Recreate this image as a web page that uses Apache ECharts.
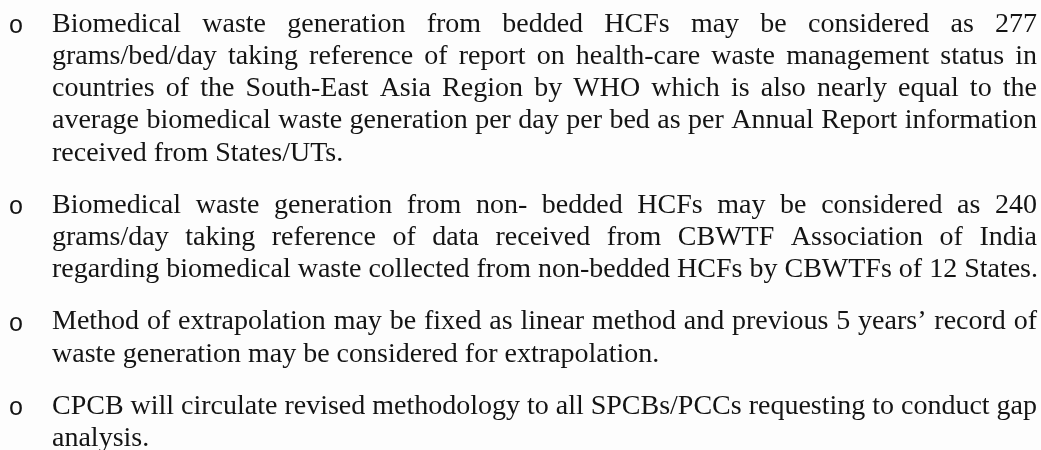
<!DOCTYPE html>
<html>
<head>
<meta charset="utf-8">
<script src="https://cdn.jsdelivr.net/npm/echarts@6/dist/echarts.min.js"></script>
<style>
  html, body { margin: 0; padding: 0; background: #fdfdfd; }
  #chart { width: 1041px; height: 450px; }
</style>
</head>
<body>
<div id="chart"></div>
<script>
// ---- Content (text lines exactly as broken in the reference) ----
const paragraph1 = [
  "Biomedical waste generation from bedded HCFs may be considered as 277",
  "grams/bed/day taking reference of report on health-care waste management status in",
  "countries of the South-East Asia Region by WHO which is also nearly equal to the",
  "average biomedical waste generation per day per bed as per Annual Report information",
  "received from States/UTs."
];
const paragraph2 = [
  "Biomedical waste generation from non- bedded HCFs may be considered as 240",
  "grams/day taking reference of data received from CBWTF Association of India",
  "regarding biomedical waste collected from non-bedded HCFs by CBWTFs of 12 States."
];
const paragraph3 = [
  "Method of extrapolation may be fixed as linear method and previous 5 years\u2019 record of",
  "waste generation may be considered for extrapolation."
];
const paragraph4 = [
  "CPCB will circulate revised methodology to all SPCBs/PCCs requesting to conduct gap",
  "analysis."
];
const paragraphs = [paragraph1, paragraph2, paragraph3, paragraph4];
const bulletChar = "o";

// ---- Layout / style ----
const FONT_SIZE = 28;
const FONT_FAMILY = '"Liberation Serif", "Times New Roman", serif';
const TEXT_COLOR = '#141414';
const LEFT = 52;
const RIGHT = 1037;
const BULLET_X = 16;
const FIRST_BASELINE = 34;
const LINE_STEP = 32.2;
const PARA_GAP = 20;
const MID_OFFSET = 0.34 * FONT_SIZE; // baseline -> middle of em box

const fontStr = FONT_SIZE + 'px ' + FONT_FAMILY;
const measureCtx = document.createElement('canvas').getContext('2d');
measureCtx.font = fontStr;
const w = s => measureCtx.measureText(s).width;

const elements = [];
let baseline = FIRST_BASELINE;
paragraphs.forEach((lines) => {
  // bullet
  elements.push({
    type: 'text', x: BULLET_X, y: baseline - 0.26 * FONT_SIZE,
    style: { text: bulletChar, font: (FONT_SIZE - 3) + 'px "Liberation Mono", monospace',
             fill: TEXT_COLOR, align: 'center', verticalAlign: 'middle' }
  });
  lines.forEach((line, li) => {
    const isLast = li === lines.length - 1;
    const y = baseline - MID_OFFSET;
    if (isLast) {
      elements.push({ type: 'text', x: LEFT, y: y,
        style: { text: line, font: fontStr, fill: TEXT_COLOR, align: 'left', verticalAlign: 'middle' } });
    } else {
      const words = line.split(' ');
      const total = words.reduce((a, s) => a + w(s), 0);
      const gap = (RIGHT - LEFT - total) / (words.length - 1);
      let x = LEFT;
      words.forEach(word => {
        elements.push({ type: 'text', x: x, y: y,
          style: { text: word, font: fontStr, fill: TEXT_COLOR, align: 'left', verticalAlign: 'middle' } });
        x += w(word) + gap;
      });
    }
    baseline += LINE_STEP;
  });
  baseline += PARA_GAP;
});

const chart = echarts.init(document.getElementById('chart'), null, { renderer: 'canvas' });
chart.setOption({
  backgroundColor: '#fdfdfd',
  animation: false,
  graphic: { elements: elements }
});
</script>
</body>
</html>
